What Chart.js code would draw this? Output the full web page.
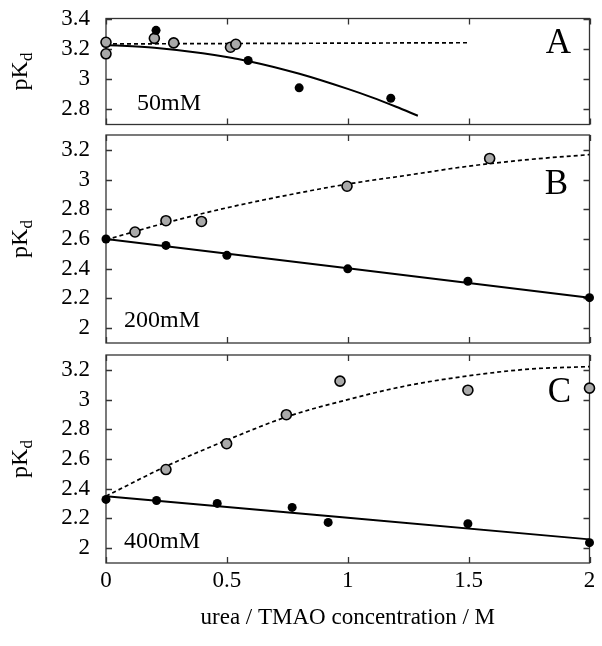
<!DOCTYPE html>
<html>
<head>
<meta charset="utf-8">
<script src="https://cdn.jsdelivr.net/npm/chart.js@4.4.0/dist/chart.umd.min.js"></script>
<style>
  body { margin: 0; background: #fff; }
  .wrap { position: relative; width: 602px; height: 646px; }
  .wrap canvas { position: absolute; left: 0; }
</style>
</head>
<body>
<div class="wrap">
  <canvas id="panelA" style="top:0px" width="602" height="130"></canvas>
  <canvas id="panelB" style="top:130px" width="602" height="218"></canvas>
  <canvas id="panelC" style="top:348px" width="602" height="298"></canvas>
</div>
<script>
/* global Chart */

// axis ticks
const xTicks = [0, 0.5, 1, 1.5, 2];
const yTicksA = [2.8, 3, 3.2, 3.4];
const yTicksBC = [2, 2.2, 2.4, 2.6, 2.8, 3, 3.2];

// panel A, 50mM
const grayA_x = [0, 0, 0.2, 0.28, 0.515, 0.537];
const grayA_y = [3.243, 3.167, 3.269, 3.239, 3.21, 3.23];
const blackA_x = [0.207, 0.588, 0.799, 1.178];
const blackA_y = [3.322, 3.123, 2.942, 2.873];
const dashA_x = [0, 1.5];
const dashA_y = [3.232, 3.24];
const fitA_x = [0, 0.2, 0.4, 0.6, 0.8, 1.0, 1.1, 1.2, 1.29];
const fitA_y = [3.225, 3.207, 3.17, 3.115, 3.035, 2.935, 2.879, 2.817, 2.758];

// panel B, 200mM
const grayB_x = [0.12, 0.248, 0.395, 0.997, 1.587];
const grayB_y = [2.647, 2.723, 2.718, 2.955, 3.142];
const blackB_x = [0, 0.248, 0.5, 1.0, 1.497, 2.0];
const blackB_y = [2.6, 2.557, 2.49, 2.399, 2.316, 2.205];
const dashB_x = [0, 0.25, 0.5, 0.75, 1, 1.25, 1.5, 1.75, 2];
const dashB_y = [2.595, 2.71, 2.81, 2.895, 2.97, 3.03, 3.09, 3.135, 3.168];
const fitB_x = [0, 2];
const fitB_y = [2.6, 2.205];

// panel C, 400mM
const grayC_x = [0.248, 0.499, 0.746, 0.968, 1.497, 2.0];
const grayC_y = [2.529, 2.703, 2.898, 3.124, 3.063, 3.077];
const blackC_x = [0, 0.209, 0.46, 0.77, 0.919, 1.497, 2.0];
const blackC_y = [2.328, 2.321, 2.301, 2.274, 2.173, 2.164, 2.037];
const dashC_x = [0, 0.25, 0.5, 0.75, 1, 1.25, 1.5, 1.75, 2];
const dashC_y = [2.35, 2.552, 2.727, 2.885, 3.0, 3.095, 3.16, 3.205, 3.222];
const fitC_x = [0, 2];
const fitC_y = [2.35, 2.059];

const SERIF = '"Liberation Serif", "DejaVu Serif", serif';

function pts(xs, ys) {
  return xs.map(function (x, i) { return { x: x, y: ys[i] }; });
}

function fmt(v) {
  return String(+Number(v).toFixed(1));
}

// frame + inward ticks on all four sides
const framePlugin = {
  id: 'frame',
  beforeDatasetsDraw(chart) {
    const ctx = chart.ctx;
    const a = chart.chartArea;
    const x = chart.scales.x;
    const y = chart.scales.y;
    const len = 6;
    ctx.save();
    ctx.strokeStyle = '#333';
    ctx.lineWidth = 1.3;
    ctx.strokeRect(a.left, a.top, a.right - a.left, a.bottom - a.top);
    ctx.beginPath();
    xTicks.forEach(function (v) {
      const px = Math.round(x.getPixelForValue(v)) + 0.5;
      ctx.moveTo(px, a.top); ctx.lineTo(px, a.top + len);
      ctx.moveTo(px, a.bottom); ctx.lineTo(px, a.bottom - len);
    });
    chart.options.plugins.frame.yTicks.forEach(function (v) {
      const py = Math.round(y.getPixelForValue(v)) + 0.5;
      ctx.moveTo(a.left, py); ctx.lineTo(a.left + len, py);
      ctx.moveTo(a.right, py); ctx.lineTo(a.right - len, py);
    });
    ctx.stroke();
    ctx.restore();
  }
};

// panel letter, concentration and pKd label
const labelPlugin = {
  id: 'labels',
  afterDraw(chart) {
    const o = chart.options.plugins.labels;
    const ctx = chart.ctx;
    const a = chart.chartArea;
    ctx.save();
    ctx.fillStyle = '#000';
    ctx.textBaseline = 'middle';

    ctx.font = '35px ' + SERIF;
    ctx.textAlign = 'center';
    ctx.fillText(o.letter, a.right - o.letterDx, a.top + o.letterDy);

    ctx.font = '24px ' + SERIF;
    ctx.textAlign = 'left';
    ctx.fillText(o.conc, a.left + o.concDx, a.bottom - o.concDy);

    // pK with subscript d, rotated
    ctx.translate(27, (a.top + a.bottom) / 2);
    ctx.rotate(-Math.PI / 2);
    ctx.textBaseline = 'alphabetic';
    ctx.font = '24px ' + SERIF;
    const w1 = ctx.measureText('pK').width;
    ctx.font = '17px ' + SERIF;
    const w2 = ctx.measureText('d').width;
    const start = -(w1 + w2) / 2;
    ctx.font = '24px ' + SERIF;
    ctx.fillText('pK', start, 0);
    ctx.font = '17px ' + SERIF;
    ctx.fillText('d', start + w1, 5);
    ctx.restore();
  }
};

function pointSet(data, gray) {
  return {
    type: 'scatter',
    data: data,
    showLine: false,
    clip: false,
    pointRadius: gray ? 5 : 4.5,
    pointBackgroundColor: gray ? '#a9a9a9' : '#000',
    pointBorderColor: '#000',
    pointBorderWidth: gray ? 1.6 : 0,
    order: 1
  };
}

function lineSet(data, dashed) {
  return {
    type: 'line',
    data: data,
    borderColor: '#000',
    borderWidth: dashed ? 1.7 : 2,
    borderDash: dashed ? [4, 3] : [],
    pointRadius: 0,
    fill: false,
    tension: 0.4,
    cubicInterpolationMode: 'monotone',
    order: 2
  };
}

function noPad(s) {
  s.paddingTop = 0;
  s.paddingBottom = 0;
  s.paddingLeft = 0;
  s.paddingRight = 0;
}

function makePanel(id, cfg) {
  const showX = !!cfg.showX;
  return new Chart(document.getElementById(id), {
    type: 'scatter',
    data: {
      datasets: [
        pointSet(pts(cfg.blackX, cfg.blackY), false),
        pointSet(pts(cfg.grayX, cfg.grayY), true),
        lineSet(pts(cfg.dashX, cfg.dashY), true),
        lineSet(pts(cfg.fitX, cfg.fitY), false)
      ]
    },
    options: {
      responsive: false,
      animation: false,
      devicePixelRatio: 1,
      events: [],
      layout: { padding: cfg.padding, autoPadding: false },
      scales: {
        x: {
          type: 'linear',
          min: 0,
          max: 2,
          display: showX,
          afterBuildTicks: function (s) { s.ticks = xTicks.map(function (v) { return { value: v }; }); },
          afterFit: function (s) { noPad(s); if (showX) s.height = 83; },
          grid: { display: false, drawTicks: false },
          border: { display: false },
          ticks: {
            padding: 4,
            color: '#000',
            font: { family: SERIF, size: 23 },
            maxRotation: 0,
            callback: function (v) { return fmt(v); }
          },
          title: {
            display: showX,
            text: 'urea / TMAO concentration / M',
            color: '#000',
            font: { family: SERIF, size: 23 },
            padding: { top: 0, bottom: 14 }
          }
        },
        y: {
          type: 'linear',
          min: cfg.yMin,
          max: cfg.yMax,
          afterBuildTicks: function (s) { s.ticks = cfg.yTicks.map(function (v) { return { value: v }; }); },
          afterFit: function (s) { noPad(s); s.width = 106; },
          grid: { display: false, drawTicks: false },
          border: { display: false },
          ticks: {
            padding: 16,
            color: '#000',
            font: { family: SERIF, size: 23 },
            callback: function (v) { return fmt(v); }
          }
        }
      },
      plugins: {
        legend: { display: false },
        tooltip: { enabled: false },
        frame: { yTicks: cfg.yTicks },
        labels: cfg.labels
      }
    },
    plugins: [framePlugin, labelPlugin]
  });
}

makePanel('panelA', {
  grayX: grayA_x, grayY: grayA_y, blackX: blackA_x, blackY: blackA_y,
  dashX: dashA_x, dashY: dashA_y, fitX: fitA_x, fitY: fitA_y,
  yMin: 2.7, yMax: 3.4, yTicks: yTicksA,
  padding: { top: 18.5, bottom: 5.5, left: 0, right: 12.5 },
  labels: { letter: 'A', letterDx: 31, letterDy: 25, conc: '50mM', concDx: 31, concDy: 21 }
});

makePanel('panelB', {
  grayX: grayB_x, grayY: grayB_y, blackX: blackB_x, blackY: blackB_y,
  dashX: dashB_x, dashY: dashB_y, fitX: fitB_x, fitY: fitB_y,
  yMin: 1.9, yMax: 3.3, yTicks: yTicksBC,
  padding: { top: 5, bottom: 5, left: 0, right: 12.5 },
  labels: { letter: 'B', letterDx: 33, letterDy: 50, conc: '200mM', concDx: 18, concDy: 22 }
});

makePanel('panelC', {
  grayX: grayC_x, grayY: grayC_y, blackX: blackC_x, blackY: blackC_y,
  dashX: dashC_x, dashY: dashC_y, fitX: fitC_x, fitY: fitC_y,
  yMin: 1.9, yMax: 3.3, yTicks: yTicksBC, showX: true,
  padding: { top: 7, bottom: 0, left: 0, right: 12.5 },
  labels: { letter: 'C', letterDx: 30, letterDy: 38, conc: '400mM', concDx: 18, concDy: 21 }
});
</script>
</body>
</html>
